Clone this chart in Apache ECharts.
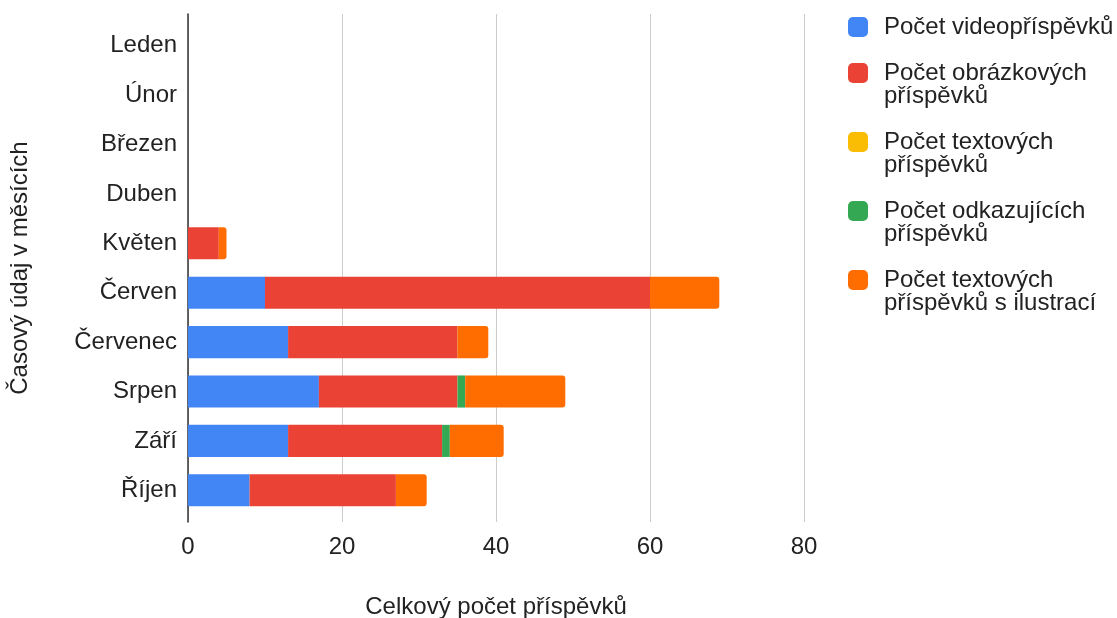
<!DOCTYPE html>
<html><head><meta charset="utf-8">
<script src="https://cdn.jsdelivr.net/npm/echarts@6/dist/echarts.min.js"></script>
<style>html,body{margin:0;padding:0;background:#fff}#c{width:1117px;height:618px}</style>
</head><body><div id="c"></div>
<script>
const months = ['Leden','Únor','Březen','Duben','Květen','Červen','Červenec','Srpen','Září','Říjen'];
const seriesNames = ['Počet videopříspěvků','Počet obrázkových příspěvků','Počet textových příspěvků','Počet odkazujících příspěvků','Počet textových příspěvků s ilustrací'];
const legendLines = [['Počet videopříspěvků'],['Počet obrázkových','příspěvků'],['Počet textových','příspěvků'],['Počet odkazujících','příspěvků'],['Počet textových','příspěvků s ilustrací']];
const video    = [0,0,0,0,0,10,13,17,13,8];
const obrazky  = [0,0,0,0,4,50,22,18,20,19];
const texty    = [0,0,0,0,0,0,0,0,0,0];
const odkazy   = [0,0,0,0,0,0,0,1,1,0];
const ilustrace= [0,0,0,0,1,9,4,13,7,4];
const xTicks = [0,20,40,60,80];
const colors = ['#4285F4','#EA4335','#FBBC04','#34A853','#FF6D01'];
const values = [video, obrazky, texty, odkazy, ilustrace];
const font = '"Liberation Sans", Arial, sans-serif';
const txt = '#222';

const chart = echarts.init(document.getElementById('c'));
chart.setOption({
  animation:false,
  color: colors,
  grid:[
    {left:188,right:313,top:21,bottom:103,containLabel:false,outerBoundsMode:'none'},
    {left:188,right:313,top:14,bottom:96,containLabel:false,outerBoundsMode:'none'}
  ],
  legend:{
    orient:'vertical', left:843, top:10, itemWidth:20, itemHeight:20, itemGap:-1,
    icon:'roundRect',
    textStyle:{fontFamily:font,fontSize:24,color:txt,lineHeight:23,padding:[0,0,0,11]},
    formatter:function(name){
      const l = legendLines[seriesNames.indexOf(name)];
      // multi-line entries: empty leading line keeps the swatch level with the first text line
      return l.length > 1 ? '\n' + l.join('\n') : l[0];
    },
    data: seriesNames
  },
  xAxis:[{
    type:'value', gridIndex:0, min:xTicks[0], max:xTicks[xTicks.length-1], interval:20,
    name:'Celkový počet příspěvků', nameLocation:'middle', nameGap:80,
    nameTextStyle:{fontFamily:font,fontSize:24,color:txt},
    axisLine:{show:false}, axisTick:{show:false},
    axisLabel:{fontFamily:font,fontSize:24,color:txt,margin:20},
    splitLine:{show:false}
  },{
    type:'value', gridIndex:1, min:xTicks[0], max:xTicks[xTicks.length-1], interval:20,
    axisLine:{show:false}, axisTick:{show:false}, axisLabel:{show:false},
    splitLine:{lineStyle:{color:'#cccccc',width:1}}
  }],
  yAxis:[{
    type:'category', gridIndex:0, data:months, inverse:true,
    name:'Časový údaj v měsících', nameLocation:'middle', nameGap:156, nameRotate:90,
    nameTextStyle:{fontFamily:font,fontSize:24,color:txt},
    axisLine:{show:false},
    axisTick:{show:false},
    axisLabel:{fontFamily:font,fontSize:24,color:txt,margin:11}
  },{
    type:'value', gridIndex:1, min:0, max:1,
    axisLine:{show:true,lineStyle:{color:'#333',width:1.5}},
    axisTick:{show:false}, axisLabel:{show:false}, splitLine:{show:false}
  }],
  series: seriesNames.map((n,i)=>({
    name:n, type:'bar', stack:'total', data:values[i], barCategoryGap:'35%',
    xAxisIndex:0, yAxisIndex:0, z:3,
    itemStyle:{color:colors[i], borderRadius: i===4 ? [0,3,3,0] : 0}
  }))
});
</script></body></html>
